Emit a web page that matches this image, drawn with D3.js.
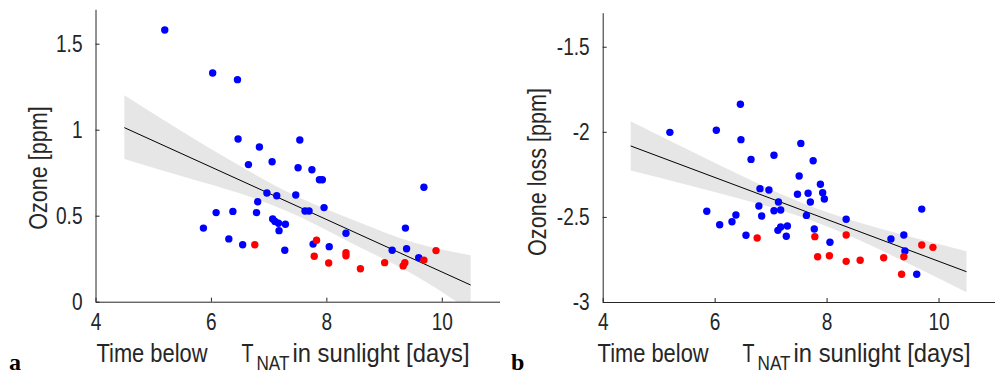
<!DOCTYPE html>
<html>
<head>
<meta charset="utf-8">
<script src="https://cdn.jsdelivr.net/npm/d3@7"></script>
<style>
  html, body { margin: 0; padding: 0; background: #fff; }
  svg text { font-family: "Liberation Sans", Arial, Helvetica, sans-serif; fill: #262626; }
  .panel-letter { font-family: "Liberation Serif", "DejaVu Serif", serif !important; font-weight: bold; fill: #000 !important; }
</style>
</head>
<body>
<svg id="fig" width="998" height="375"></svg>
<script>
// Shared x axis: time below T_NAT in sunlight (days)
const xDomain = [4, 11];
const xTicks = [4, 6, 8, 10];

// Panel a: ozone (ppm)
const ozoneDomain = [0, 1.7];
const ozoneTicks = [0, 0.5, 1, 1.5];
const ozoneBlueX = [5.20, 6.03, 6.46, 6.47, 6.84, 7.54, 6.65, 7.06, 7.51, 7.75, 7.88, 7.93, 9.69, 6.97, 7.14, 7.47,
  6.81, 7.96, 7.63, 7.70, 6.09, 6.38, 6.79, 7.07, 7.11, 7.17, 7.29, 7.18, 5.87, 9.37, 8.34, 6.31, 6.55, 7.28,
  7.77, 8.05, 9.14, 9.39, 9.60];
const ozoneBlueY = [1.580, 1.330, 1.291, 0.946, 0.899, 0.940, 0.797, 0.814, 0.779, 0.767, 0.709, 0.709, 0.665, 0.632, 0.616, 0.620,
  0.581, 0.547, 0.527, 0.527, 0.518, 0.525, 0.518, 0.481, 0.467, 0.456, 0.450, 0.413, 0.428, 0.428, 0.398, 0.365, 0.331, 0.299,
  0.335, 0.320, 0.299, 0.308, 0.256];
const ozoneRedX = [6.76, 7.83, 7.79, 8.34, 8.34, 8.04, 8.59, 9.01, 9.33, 9.36, 9.69, 9.90];
const ozoneRedY = [0.331, 0.357, 0.264, 0.285, 0.267, 0.225, 0.192, 0.227, 0.208, 0.227, 0.242, 0.297];

// Panel b: ozone loss (ppm)
const lossDomain = [-3, -1.3];
const lossTicks = [-3, -2.5, -2, -1.5];
const lossBlueX = [5.20, 6.03, 6.46, 6.47, 7.54, 7.06, 6.65, 7.76, 7.51, 7.89, 6.81, 6.97, 7.48, 7.67, 7.93, 7.96,
  7.14, 7.71, 6.79, 5.86, 7.06, 7.18, 9.70, 6.38, 6.84, 7.64, 8.35, 6.09, 6.31, 7.18, 7.30, 7.13, 7.78, 6.56,
  7.28, 9.38, 9.15, 8.06, 9.40, 9.61];
const lossBlueY = [-2.003, -1.991, -1.838, -2.046, -2.068, -2.138, -2.162, -2.170, -2.260, -2.308, -2.334, -2.342, -2.367, -2.361, -2.358, -2.395,
  -2.412, -2.412, -2.436, -2.467, -2.464, -2.459, -2.454, -2.489, -2.495, -2.491, -2.514, -2.546, -2.528, -2.559, -2.553, -2.579, -2.571, -2.608,
  -2.614, -2.606, -2.630, -2.649, -2.700, -2.837];
const lossRedX = [6.76, 7.79, 8.35, 7.84, 8.05, 8.35, 8.60, 9.02, 9.38, 9.34, 9.70, 9.90];
const lossRedY = [-2.624, -2.616, -2.606, -2.734, -2.728, -2.761, -2.755, -2.740, -2.734, -2.837, -2.665, -2.679];

// Linear fits with confidence bands
const fitX = [4.5, 10.5];
const ozoneFit = [1.012, 0.097];
const lossFit = [-2.083, -2.822];
const bandX = [4.5, 5.5, 6.5, 7.5, 8.5, 9.5, 10.5];
const ozoneBandHi = [1.20, 0.99, 0.79, 0.61, 0.47, 0.345, 0.27];
const ozoneBandLo = [0.83, 0.73, 0.63, 0.50, 0.33, 0.16, -0.055];
const lossBandHi = [-1.938, -2.101, -2.261, -2.410, -2.526, -2.616, -2.702];
const lossBandLo = [-2.228, -2.311, -2.397, -2.494, -2.624, -2.780, -2.942];

// Condensed type, as in the narrow sans used for the axes
const SQUEEZE = 0.83;

const svg = d3.select("#fig");

function panel(cfg) {
  const x = d3.scaleLinear().domain(xDomain).range([cfg.left, cfg.right]);
  const y = d3.scaleLinear().domain(cfg.yDomain).range([cfg.bottom, cfg.top]);
  const g = svg.append("g");

  const clipId = "clip-" + cfg.id;
  g.append("clipPath").attr("id", clipId)
    .append("rect").attr("x", cfg.left).attr("y", cfg.top)
    .attr("width", cfg.right - cfg.left).attr("height", cfg.bottom - cfg.top);

  const plot = g.append("g").attr("clip-path", `url(#${clipId})`);

  // confidence band
  const area = d3.area()
    .x((d, i) => x(bandX[i]))
    .y0((d, i) => y(cfg.bandLo[i]))
    .y1((d, i) => y(cfg.bandHi[i]))
    .curve(d3.curveNatural);
  plot.append("path").datum(bandX).attr("d", area)
    .attr("fill", "#e6e6e6").attr("stroke", "none");

  // regression line
  const line = d3.line().x((d, i) => x(fitX[i])).y((d, i) => y(cfg.fit[i]));
  plot.append("path").datum(fitX).attr("d", line)
    .attr("fill", "none").attr("stroke", "#000").attr("stroke-width", 1);

  // points
  const pts = (xs, ys, color) => {
    plot.append("g").selectAll("circle").data(xs).join("circle")
      .attr("cx", (d, i) => x(xs[i])).attr("cy", (d, i) => y(ys[i]))
      .attr("r", 3.7).attr("fill", color);
  };
  pts(cfg.blueX, cfg.blueY, "#0000ff");
  pts(cfg.redX, cfg.redY, "#ff0000");

  // axes
  const xAxis = d3.axisBottom(x).tickValues(xTicks).tickFormat(d => String(d))
    .tickSizeInner(-4).tickSizeOuter(0).tickPadding(12);
  const yAxis = d3.axisLeft(y).tickValues(cfg.yTicks).tickFormat(d => String(d))
    .tickSizeInner(-4).tickSizeOuter(0).tickPadding(13);
  const gx = g.append("g").attr("transform", `translate(0,${cfg.bottom})`).call(xAxis);
  const gy = g.append("g").attr("transform", `translate(${cfg.left},0)`).call(yAxis);
  [gx, gy].forEach(a => {
    a.attr("font-family", null).attr("font-size", null);
    a.selectAll("path, line").attr("stroke", "#262626");
    a.selectAll("text").attr("font-size", 23).attr("fill", "#262626")
      .attr("transform", `scale(${SQUEEZE},1)`);
  });
  gy.selectAll("text").attr("x", -13 / SQUEEZE);

  // y label
  g.append("text")
    .attr("transform", `translate(${cfg.yLabelX},${cfg.yLabelY}) rotate(-90) scale(${SQUEEZE},1)`)
    .attr("text-anchor", "middle").attr("font-size", 26)
    .text(cfg.yLabel);

  // x label "Time below  T_NAT in sunlight [days]", centred under the axis
  const x0 = (cfg.left + cfg.right) / 2 - 201;
  const seg = (dx, dy, size, len, txt) => g.append("text")
    .attr("x", x0 + dx).attr("y", 362 + dy).attr("font-size", size)
    .attr("textLength", len).attr("lengthAdjust", "spacingAndGlyphs")
    .text(txt);
  seg(0, 0, 26, 111, "Time below");
  seg(145, 0, 26, 12, "T");
  seg(160, 8, 21, 33, "NAT");
  seg(196, 0, 26, 177, "in sunlight [days]");

  // panel letter
  g.append("text").attr("class", "panel-letter")
    .attr("x", cfg.letterX).attr("y", 370).attr("font-size", 24).text(cfg.letter);
}

panel({
  id: "a", letter: "a", letterX: 9,
  left: 95.5, right: 499.5, top: 9.3, bottom: 301.7,
  yDomain: ozoneDomain, yTicks: ozoneTicks, yLabel: "Ozone [ppm]", yLabelX: 47, yLabelY: 168,
  blueX: ozoneBlueX, blueY: ozoneBlueY, redX: ozoneRedX, redY: ozoneRedY,
  fit: ozoneFit, bandLo: ozoneBandLo, bandHi: ozoneBandHi
});

panel({
  id: "b", letter: "b", letterX: 511,
  left: 602.7, right: 994.5, top: 12.7, bottom: 302,
  yDomain: lossDomain, yTicks: lossTicks, yLabel: "Ozone loss [ppm]", yLabelX: 546, yLabelY: 172,
  blueX: lossBlueX, blueY: lossBlueY, redX: lossRedX, redY: lossRedY,
  fit: lossFit, bandLo: lossBandLo, bandHi: lossBandHi
});
</script>
</body>
</html>
